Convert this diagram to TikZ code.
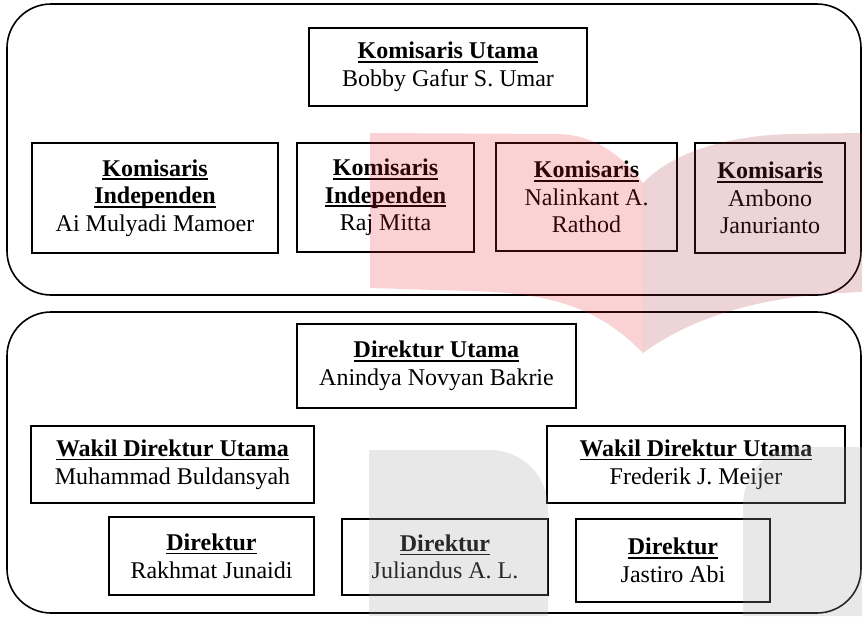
\documentclass[tikz,border=0pt]{standalone}
\usepackage{fontspec}
\setmainfont{Liberation Serif}
\newsavebox\ulbox
\newcommand\ulin[1]{\sbox\ulbox{\textbf{#1}}\rlap{\rule[-4pt]{\wd\ulbox}{1.8pt}}\usebox\ulbox}
\definecolor{wmred}{RGB}{230,30,40}
\definecolor{wmrose}{RGB}{160,40,55}
\definecolor{wmgrey}{RGB}{163,163,163}
\tikzset{
  person/.style={draw, line width=1.6pt, inner sep=0pt, align=center,
    font=\fontsize{24}{27.6}\selectfont},
  board/.style={draw, line width=1.6pt, rounded corners=44pt, inner sep=0pt},
  redmark/.style={fill=wmred, fill opacity=0.2},
  rosemark/.style={fill=wmrose, fill opacity=0.2},
  greymark/.style={fill=wmgrey, fill opacity=0.25},
}
\begin{document}
\begin{tikzpicture}[x=1pt,y=-1pt]
\useasboundingbox (0,0) rectangle (862,616);
% boards
\node[board, minimum width=854pt, minimum height=291pt] (top) at (434,149.5) {};
\node[board, minimum width=854pt, minimum height=301pt] (bottom) at (434,462.5) {};
% commissioners
\node[person, minimum width=278pt, minimum height=78pt] (ku) at (448,67)
  {\ulin{Komisaris Utama}\\Bobby Gafur S. Umar};
\node[person, minimum width=246pt, minimum height=110pt] (k1) at (155,198)
  {\ulin{Komisaris}\\\ulin{Independen}\\Ai Mulyadi Mamoer};
\node[person, minimum width=177pt, minimum height=109pt] (k2) at (385.5,197.5)
  {\ulin{Komisaris}\\\ulin{Independen}\\Raj Mitta};
\node[person, minimum width=181pt, minimum height=108pt] (k3) at (586.5,197)
  {\ulin{Komisaris}\\Nalinkant A.\\Rathod};
\node[person, minimum width=150pt, minimum height=110pt] (k4) at (770,198)
  {\ulin{Komisaris}\\Ambono\\Janurianto};
% directors
\node[person, minimum width=279pt, minimum height=84pt] (du) at (436.5,366)
  {\ulin{Direktur Utama}\\Anindya Novyan Bakrie};
\node[person, minimum width=283pt, minimum height=77pt] (wl) at (172.5,464.5)
  {\ulin{Wakil Direktur Utama}\\Muhammad Buldansyah};
\node[person, minimum width=298pt, minimum height=77pt] (wr) at (696,464.5)
  {\ulin{Wakil Direktur Utama}\\Frederik J. Meijer};
\node[person, minimum width=205pt, minimum height=78pt] (d1) at (211.5,556)
  {\ulin{Direktur}\\Rakhmat Junaidi};
\node[person, minimum width=206pt, minimum height=76pt] (d2) at (445,557)
  {\ulin{Direktur}\\Juliandus A. L.};
\node[person, minimum width=194pt, minimum height=83pt] (d3) at (673,560.5)
  {\ulin{Direktur}\\Jastiro Abi};
% watermark
\fill[redmark] (370,133) -- (560,134) .. controls (600,136) and (625,160) .. (643,183)
  -- (643,353) .. controls (605,315) and (565,293) .. (470,291) -- (370,288) -- cycle;
\fill[rosemark] (643,183) .. controls (670,155) and (720,136) .. (790,134) -- (862,133)
  -- (862,292) -- (840,293) .. controls (760,297) and (690,318) .. (643,353) -- cycle;
\fill[greymark] (369,616) -- (369,450) -- (490,450) .. controls (522,450) and (548,476) .. (548,508)
  -- (548,616) -- cycle;
\fill[greymark] (743,616) -- (743,505) .. controls (743,473) and (768,447) .. (800,447)
  -- (862,447) -- (862,616) -- cycle;
\end{tikzpicture}
\end{document}
